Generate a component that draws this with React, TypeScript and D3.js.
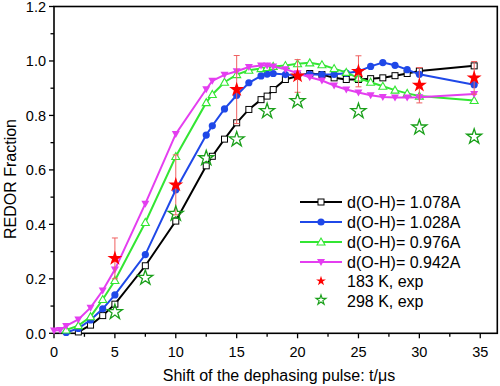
import React, { useEffect } from 'react'
import * as d3 from 'd3'

// shift times (us) shared by the simulated curves
const shifts = [0, 0.5, 1, 2, 3, 4, 5, 7.5, 10, 12.5, 13, 14, 15, 16, 17, 17.5, 18, 19, 20, 21, 22, 23, 24, 25, 26, 27, 28, 29, 30, 34.5]

const oh1078 = [null, null, null, 0.005, 0.03, 0.065, 0.107, 0.248, 0.412, 0.615, 0.65, 0.713, 0.773, 0.822, 0.858, 0.871, 0.895, 0.932, 0.945, 0.954, 0.95, 0.938, 0.932, 0.932, 0.935, 0.938, 0.946, 0.954, 0.963, 0.982]
const oh1028 = [null, null, 0.003, 0.018, 0.049, 0.09, 0.141, 0.289, 0.527, 0.728, 0.762, 0.824, 0.874, 0.92, 0.945, 0.952, 0.954, 0.95, 0.948, 0.951, 0.95, 0.951, 0.955, 0.962, 0.98, 0.994, 0.984, 0.968, 0.951, 0.913]
const oh0976 = [null, null, 0.012, 0.028, 0.061, 0.124, 0.194, 0.407, 0.649, 0.847, 0.877, 0.922, 0.95, 0.966, 0.972, 0.976, 0.98, 0.983, 0.99, 0.993, 0.986, 0.972, 0.958, 0.937, 0.922, 0.907, 0.893, 0.881, 0.871, 0.855]
const oh0942 = [0.01, 0.012, 0.027, 0.051, 0.094, 0.157, 0.234, 0.476, 0.732, 0.896, 0.927, 0.949, 0.962, 0.978, 0.983, 0.983, 0.98, 0.97, 0.955, 0.94, 0.928, 0.91, 0.895, 0.884, 0.874, 0.868, 0.866, 0.866, 0.867, 0.879]

// experiments
const exp183T = [5, 10, 15, 20, 25, 30, 34.5]
const exp183V = [0.275, 0.545, 0.895, 0.945, 0.962, 0.911, 0.938]
const exp183Err = [0.075, 0.11, 0.125, 0.06, 0.057, 0.065, 0.06]
const exp298T = [5, 7.5, 10, 12.5, 15, 17.5, 20, 25, 30, 34.5]
const exp298V = [0.078, 0.204, 0.439, 0.643, 0.712, 0.816, 0.853, 0.816, 0.756, 0.722]

const xTicks = [0, 5, 10, 15, 20, 25, 30, 35]
const yTicks = [0, 0.2, 0.4, 0.6, 0.8, 1.0, 1.2]

const legendNames = ['d(O-H)= 1.078A', 'd(O-H)= 1.028A', 'd(O-H)= 0.976A', 'd(O-H)= 0.942A', '183 K, exp', '298 K, exp']

const W = 500
const H = 386
const left = 54
const right = 497.3
const top = 6.5
const bottom = 333.3
const font = 'Arial, "Liberation Sans", Helvetica, sans-serif'

const series = [
  { vals: oh1078, color: '#000000', shape: 'square' },
  { vals: oh1028, color: '#1f48e8', shape: 'circle' },
  { vals: oh0976, color: '#33e633', shape: 'tri' },
  { vals: oh0942, color: '#e43ef0', shape: 'tridown' },
]

const Marker = ({ shape, color, x, y }: any) => {
  if (shape === 'square') return <rect x={x - 3} y={y - 3} width={6} height={6} fill="#fff" stroke={color} strokeWidth={1} />
  if (shape === 'circle') return <circle cx={x} cy={y} r={3.6} fill={color} />
  if (shape === 'tri') return <path d={`M${x},${y - 4}L${x + 4},${y + 3}L${x - 4},${y + 3}Z`} fill="#fff" stroke={color} strokeWidth={1.1} />
  return <path d={`M${x - 4},${y - 3}L${x + 4},${y - 3}L${x},${y + 4}Z`} fill={color} />
}

const starPath = (size: number) => d3.symbol().type(d3.symbolStar).size(size)()

export default function App() {
  useEffect(() => {
    document.body.style.margin = '0'
  }, [])

  const x = d3.scaleLinear().domain([0, 36.4]).range([left, right])
  const y = d3.scaleLinear().domain([0, 1.2]).range([bottom, top])

  const line = d3.line<[number, number]>()
    .x((d) => x(d[0]))
    .y((d) => y(d[1]))

  const xMinor = d3.range(2.5, 36, 5)
  const yMinor = d3.range(0.1, 1.2, 0.2)

  const bigStar = starPath(70)
  const smallStar = starPath(30)

  const legX = 300
  const legY = 202

  return (
    <svg width={W} height={H} style={{ display: 'block', background: '#fff' }} fontFamily={font}>
      <rect x={0} y={0} width={W} height={H} fill="#fff" />
      {/* frame */}
      <rect x={left} y={top} width={right - left} height={bottom - top} fill="none" stroke="#000" strokeWidth={1.6} />

      {/* x ticks */}
      {xTicks.map((t) => (
        <g key={'xt' + t}>
          <line x1={x(t)} x2={x(t)} y1={bottom} y2={bottom + 5} stroke="#000" strokeWidth={1.3} />
          <text x={x(t)} y={bottom + 24} fontSize={14.5} textAnchor="middle">{t}</text>
        </g>
      ))}
      {xMinor.map((t) => (
        <line key={'xm' + t} x1={x(t)} x2={x(t)} y1={bottom} y2={bottom + 3.5} stroke="#000" strokeWidth={1.3} />
      ))}
      {/* y ticks */}
      {yTicks.map((t) => (
        <g key={'yt' + t}>
          <line x1={left - 5} x2={left} y1={y(t)} y2={y(t)} stroke="#000" strokeWidth={1.3} />
          <text x={left - 8} y={y(t)} dy="0.36em" fontSize={14.5} textAnchor="end">{t.toFixed(1)}</text>
        </g>
      ))}
      {yMinor.map((t) => (
        <line key={'ym' + t} x1={left - 3.5} x2={left} y1={y(t)} y2={y(t)} stroke="#000" strokeWidth={1.3} />
      ))}

      <text x={279} y={381} fontSize={16} textAnchor="middle">Shift of the dephasing pulse: t/μs</text>
      <text transform="translate(16,179) rotate(-90)" fontSize={16} textAnchor="middle">REDOR Fraction</text>

      {/* simulated curves */}
      {series.map((s, i) => {
        const pts = shifts.map((t, j) => [t, s.vals[j]] as [number, number]).filter((p) => p[1] != null)
        return (
          <g key={'s' + i}>
            <path d={line(pts) || ''} fill="none" stroke={s.color} strokeWidth={2} />
            {pts.map((p, j) => <Marker key={j} shape={s.shape} color={s.color} x={x(p[0])} y={y(p[1])} />)}
          </g>
        )
      })}

      {/* 183 K error bars and stars */}
      {exp183T.map((t, i) => {
        const cx = x(t)
        const hi = y(exp183V[i] + exp183Err[i])
        const lo = y(exp183V[i] - exp183Err[i])
        return (
          <g key={'e' + i} stroke="#f06060" strokeWidth={1}>
            <line x1={cx} x2={cx} y1={hi} y2={lo} />
            <line x1={cx - 3} x2={cx + 3} y1={hi} y2={hi} />
            <line x1={cx - 3} x2={cx + 3} y1={lo} y2={lo} />
          </g>
        )
      })}
      {exp298T.map((t, i) => (
        <path key={'g' + i} d={bigStar || ''} transform={`translate(${x(t)},${y(exp298V[i])})`} fill="none" stroke="#1aa01a" strokeWidth={1.3} />
      ))}
      {exp183T.map((t, i) => (
        <path key={'r' + i} d={bigStar || ''} transform={`translate(${x(t)},${y(exp183V[i])})`} fill="#ff0000" />
      ))}

      {/* legend */}
      {series.map((s, i) => (
        <g key={'l' + i}>
          <line x1={legX} x2={legX + 42} y1={legY + i * 20} y2={legY + i * 20} stroke={s.color} strokeWidth={2} />
          <Marker shape={s.shape} color={s.color} x={legX + 21} y={legY + i * 20} />
        </g>
      ))}
      <path d={smallStar || ''} transform={`translate(${legX + 21},${legY + 4 * 20 - 1})`} fill="#ff0000" />
      <path d={smallStar || ''} transform={`translate(${legX + 21},${legY + 5 * 20 - 2})`} fill="none" stroke="#1aa01a" strokeWidth={1.2} />
      {legendNames.map((n, i) => (
        <text key={'ln' + i} x={legX + 47} y={legY + i * 20 - (i > 3 ? 1 : 0)} dy="0.36em" fontSize={16}>{n}</text>
      ))}
    </svg>
  )
}
